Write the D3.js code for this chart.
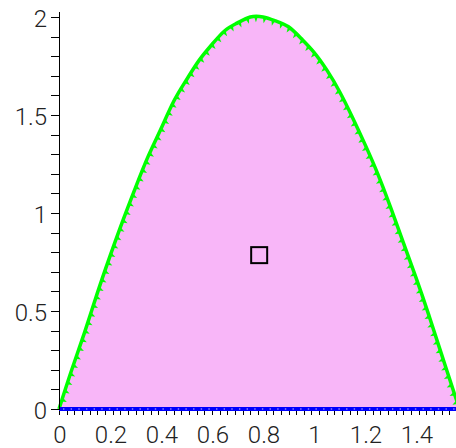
<!DOCTYPE html>
<html>
<head>
<meta charset="utf-8">
<script src="https://cdn.jsdelivr.net/npm/d3@7"></script>
<style>
	body { margin: 0; background: #fff; }
	svg { display: block; }
	text { font-family: "Roboto", "Liberation Sans", sans-serif; font-weight: 300; font-size: 24px; fill: #222; }
</style>
</head>
<body>
<svg id="chart" width="456" height="448"></svg>
<script>
// values
var xLabels = [0, 0.2, 0.4, 0.6, 0.8, 1, 1.2, 1.4];
var yLabels = [0, 0.5, 1, 1.5, 2];
var curveX = [0, 0.05, 0.1, 0.15, 0.2, 0.25, 0.3, 0.35, 0.4, 0.45, 0.5, 0.55, 0.6, 0.65, 0.7, 0.75,
	0.8, 0.85, 0.9, 0.95, 1.0, 1.05, 1.1, 1.15, 1.2, 1.25, 1.3, 1.35, 1.4, 1.45, 1.5, 1.55, 1.571];
var curveY = [0, 0.20, 0.39, 0.59, 0.78, 0.96, 1.13, 1.29, 1.43, 1.57, 1.68, 1.78, 1.86, 1.93, 1.97, 2.00,
	2.00, 1.98, 1.95, 1.89, 1.82, 1.73, 1.62, 1.49, 1.35, 1.20, 1.03, 0.85, 0.67, 0.48, 0.28, 0.08, 0];
var marker = [0.785, 0.785];
var xMinorStep = 0.03;
var yMinorStep = 0.1;

var svg = d3.select("#chart");

var x = d3.scaleLinear().domain([0, 1]).range([59, 314]);
var y = d3.scaleLinear().domain([0, 2]).range([409, 17]);

var pts = curveX.map(function(d, i){ return [d, curveY[i]]; });

// pink region
var area = d3.area()
	.x(function(d){ return x(d[0]); })
	.y0(y(0))
	.y1(function(d){ return y(d[1]); })
	.curve(d3.curveNatural);
svg.append("path")
	.attr("d", area(pts))
	.attr("fill", "#f8b6f8");

// green boundary
var line = d3.line()
	.x(function(d){ return x(d[0]); })
	.y(function(d){ return y(d[1]); })
	.curve(d3.curveNatural);
var edge = svg.append("path")
	.attr("d", line(pts))
	.attr("fill", "none")
	.attr("stroke", "#00ff00")
	.attr("stroke-width", 3.5);

// little teeth on the inner side of the green line
var node = edge.node();
var total = node.getTotalLength();
d3.range(10, total - 6, 9).forEach(function(L){
	var p = node.getPointAtLength(L);
	var q = node.getPointAtLength(L + 1);
	var dx = q.x - p.x, dy = q.y - p.y;
	var n = Math.sqrt(dx*dx + dy*dy) || 1;
	// normal pointing into the filled region, leaning downwards
	var nx = -dy/n, ny = dx/n;
	svg.append("path")
		.attr("d", "M" + (p.x - dx/n*2) + "," + (p.y - dy/n*2)
			+ "L" + (p.x + nx*5) + "," + (p.y + ny*5 + 1)
			+ "L" + (p.x + dx/n*2) + "," + (p.y + dy/n*2) + "Z")
		.attr("fill", "#00ff00");
});

// x axis minor ticks
svg.selectAll(".xt").data(d3.range(0, 1.6, xMinorStep))
	.enter().append("line")
	.attr("class", "xt")
	.attr("x1", function(d){ return Math.round(x(d)) + 0.5; })
	.attr("x2", function(d){ return Math.round(x(d)) + 0.5; })
	.attr("y1", y(0))
	.attr("y2", y(0) + 6)
	.attr("stroke", "#000")
	.attr("stroke-width", 1);

// blue line along y = 0
svg.append("line")
	.attr("x1", x(0)).attr("x2", x(1.571))
	.attr("y1", y(0)).attr("y2", y(0))
	.attr("stroke", "#0000ff")
	.attr("stroke-width", 4);
svg.append("line")
	.attr("x1", x(0) + 4).attr("x2", x(1.571))
	.attr("y1", y(0)).attr("y2", y(0))
	.attr("stroke", "#d8c8ff")
	.attr("stroke-width", 1.2)
	.attr("stroke-dasharray", "1.4 " + (x(xMinorStep) - x(0) - 1.4));

// y axis
svg.append("line")
	.attr("x1", 59.5).attr("x2", 59.5)
	.attr("y1", y(2) - 5).attr("y2", y(0) + 1)
	.attr("stroke", "#000");
svg.selectAll(".yt").data(d3.range(0, 2.001, yMinorStep))
	.enter().append("line")
	.attr("class", "yt")
	.attr("x1", 51).attr("x2", 59)
	.attr("y1", function(d){ return Math.round(y(d)) + 0.5; })
	.attr("y2", function(d){ return Math.round(y(d)) + 0.5; })
	.attr("stroke", "#000");

// tick labels
svg.selectAll(".yl").data(yLabels)
	.enter().append("text")
	.attr("class", "yl")
	.attr("x", 47)
	.attr("y", function(d){ return y(d) + 10; })
	.attr("text-anchor", "end")
	.text(function(d){ return d; });

svg.selectAll(".xl").data(xLabels)
	.enter().append("text")
	.attr("class", "xl")
	.attr("x", function(d){ return x(d) + 1; })
	.attr("y", 443)
	.attr("text-anchor", "middle")
	.text(function(d){ return d; });

// square marker
svg.append("rect")
	.attr("x", x(marker[0]) - 8)
	.attr("y", y(marker[1]) - 8)
	.attr("width", 16)
	.attr("height", 16)
	.attr("fill", "none")
	.attr("stroke", "#000")
	.attr("stroke-width", 2);
</script>
</body>
</html>
